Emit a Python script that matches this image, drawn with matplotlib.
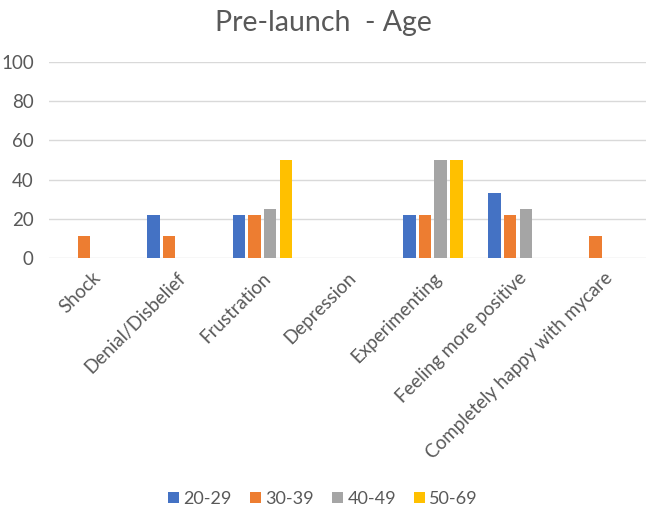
import numpy as np
import matplotlib
matplotlib.use("Agg")
import matplotlib.pyplot as plt
from matplotlib.patches import Patch

plt.rcParams["font.family"] = ["Lato", "DejaVu Sans"]

# data
categories = ["Shock", "Denial/Disbelief", "Frustration", "Depression",
              "Experimenting", "Feeling more positive", "Completely happy with mycare"]
series_names = ["20-29", "30-39", "40-49", "50-69"]
age_20_29 = [0, 22.2, 22.2, 0, 22.2, 33.3, 0]
age_30_39 = [11.1, 11.1, 22.2, 0, 22.2, 22.2, 11.1]
age_40_49 = [0, 0, 25, 0, 50, 25, 0]
age_50_69 = [0, 0, 50, 0, 50, 0, 0]
colors = ["#4472C4", "#ED7D31", "#A5A5A5", "#FFC000"]

text_col = "#595959"
grid_col = "#D9D9D9"

fig = plt.figure(figsize=(6.46, 5.13), dpi=100)
ax = fig.add_axes([0.076, 0.497, 0.924, 0.382])

x = np.arange(len(categories))
pitch = 0.184
for i, (vals, col) in enumerate(zip([age_20_29, age_30_39, age_40_49, age_50_69], colors)):
    ax.bar(x + (i - 1.5) * pitch, vals, width=0.146, color=col, zorder=3)

ax.set_xlim(-0.5, len(categories) - 0.5)
ax.set_ylim(0, 100)
ax.set_yticks(np.arange(0, 101, 20))
ax.grid(axis="y", color=grid_col, linewidth=1.0, zorder=0)
ax.set_axisbelow(True)
for s in ax.spines.values():
    s.set_visible(False)
ax.tick_params(length=0, labelcolor=text_col, labelsize=13.5)
ax.tick_params(axis="y", pad=11)
ax.set_xticks(x)
ax.set_xticklabels(categories, rotation=45, ha="right", rotation_mode="anchor")
ax.tick_params(axis="x", pad=8)

fig.text(0.5, 0.955, "Pre-launch  - Age", ha="center", va="center",
         fontsize=20.5, color=text_col)

handles = [Patch(facecolor=c, label=n) for c, n in zip(colors, series_names)]
fig.legend(handles=handles, loc="center", bbox_to_anchor=(0.5, 0.028), ncol=4,
           frameon=False, fontsize=13, labelcolor=text_col,
           handlelength=0.6, handleheight=0.6, handletextpad=0.25, columnspacing=1.0)

fig.savefig("out.png", dpi=100)
